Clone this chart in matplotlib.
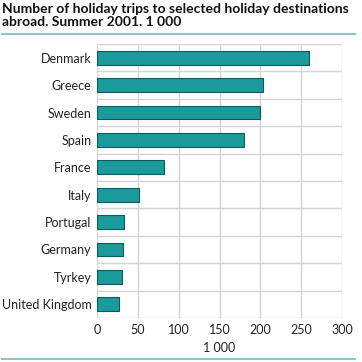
import matplotlib
matplotlib.use('Agg')
import matplotlib.pyplot as plt
from matplotlib.lines import Line2D

# Data (1 000 trips)
countries = ['Denmark', 'Greece', 'Sweden', 'Spain', 'France', 'Italy',
             'Portugal', 'Germany', 'Tyrkey', 'United Kingdom']
trips = [260, 203, 200, 180, 82, 52, 33.5, 32, 30, 27]
xticks = [0, 50, 100, 150, 200, 250, 300]

plt.rcParams['font.family'] = ['Lato', 'DejaVu Sans']

fig = plt.figure(figsize=(3.62, 3.62), dpi=100)
ax = fig.add_axes([97 / 362, 1 - 318 / 362, 245 / 362, 274 / 362])

pos = list(range(len(countries)))
ax.barh(pos, trips, height=0.5, color='#1a9a9a', edgecolor='#0d5c5c', linewidth=0.8, zorder=3)

ax.set_xlim(0, 300)
ax.set_ylim(len(countries) - 0.5, -0.5)
ax.set_xticks(xticks)
ax.set_xticklabels([str(t) for t in xticks], fontsize=9, color='#222222')
ax.set_yticks(pos)
ax.set_yticklabels(countries, fontsize=9, color='#222222')
ax.tick_params(length=0, pad=4)

# grid: vertical at ticks, horizontal between categories
for t in xticks:
    ax.axvline(t, color='#d4d4d4', linewidth=1, zorder=1)
for b in [i - 0.5 for i in range(len(countries) + 1)]:
    ax.axhline(b, color='#d4d4d4', linewidth=1, zorder=1)
for s in ax.spines.values():
    s.set_visible(False)

ax.set_xlabel('1 000', fontsize=9, color='#222222', labelpad=5)

fig.text(0.005, 1 - 3 / 362, 'Number of holiday trips to selected holiday destinations\nabroad. Summer 2001. 1 000',
         fontsize=10, fontweight='bold', va='top', ha='left', color='#111111', linespacing=1.15)

fig.add_artist(Line2D([0.005, 0.98], [1 - 33.5 / 362] * 2, color='#86c9c9', linewidth=1.5))
fig.add_artist(Line2D([0.005, 0.98], [1 - 359 / 362] * 2, color='#86c9c9', linewidth=1.5))

fig.savefig('out.png', dpi=100)
